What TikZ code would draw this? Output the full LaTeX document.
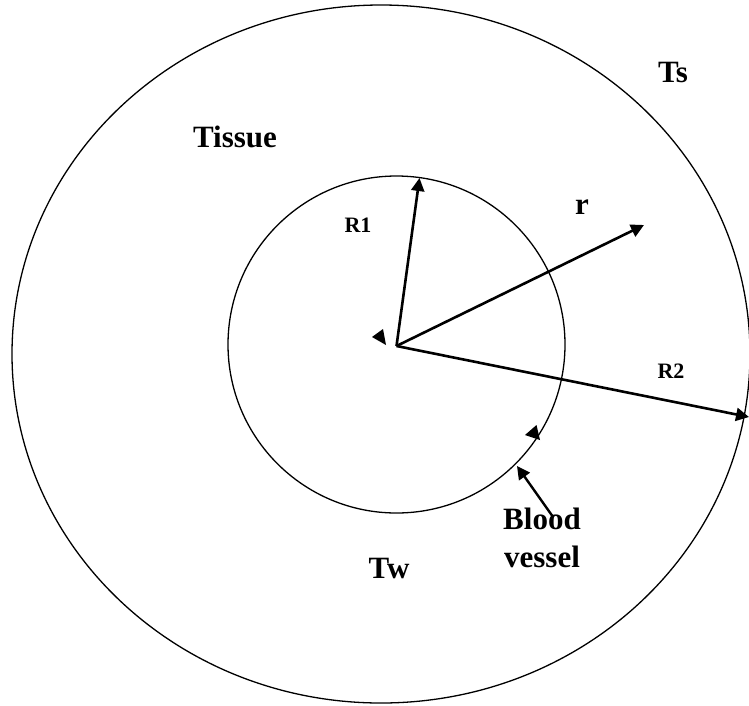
\documentclass[tikz,border=0pt]{standalone}
\usepackage{fontspec}
\setmainfont{Liberation Serif}
\usepackage{tikz}
\usetikzlibrary{arrows.meta, positioning}
\tikzset{
  ring/.style={draw=black, line width=1.3pt},
  vec/.style={line width=2.6pt, -{Triangle[length=13pt, width=13pt]}},
  tip/.style={fill=black},
  biglbl/.style={font=\fontsize{31}{36}\selectfont\bfseries, inner sep=0pt},
  smllbl/.style={font=\fontsize{22}{26}\selectfont\bfseries, inner sep=0pt},
  twolbl/.style={font=\fontsize{31}{38}\selectfont\bfseries, inner sep=0pt, align=center}
}

\begin{document}
\begin{tikzpicture}[x=1pt, y=-1pt]
\useasboundingbox (0,0) rectangle (749,705);

% Tissue and blood vessel
\draw[ring] (381,354) ellipse [x radius=369, y radius=349];
\draw[ring] (396.5,344.5) circle [radius=168.5];

% Centre and radius end points
\coordinate (O)    at (396.5,346);
\coordinate (R1e)  at (419.5,178);
\coordinate (re)   at (644,225);
\coordinate (R2e)  at (749,417);
\coordinate (wall) at (517,466);

% Radii
\draw[vec] (O) -- (R1e);
\draw[vec] (O) -- (re);
\draw[vec] (O) -- (R2e);

% Stray arrow heads
\fill[tip] (372,337) -- (383,329) -- (386,345) -- cycle;
\fill[tip] (525,435) -- (536.5,425) -- (540,440) -- cycle;

% Labels
\node[biglbl] (tissue) at (235,137) {Tissue};
\node[biglbl] (ts)     at (673,72)  {Ts};
\node[biglbl] (lblr)   at (582,207) {r};
\node[smllbl] (lblR1)  at (358,225) {R1};
\node[smllbl] (lblR2)  at (671,371) {R2};
\node[biglbl] (tw)     at (389,568) {Tw};
\node[twolbl] (blood)  at (542,538) {Blood\\vessel};

% Pointer to the vessel wall
\draw[vec, line width=2.4pt] (blood.north) ++(11,9) -- (wall);

\end{tikzpicture}
\end{document}
